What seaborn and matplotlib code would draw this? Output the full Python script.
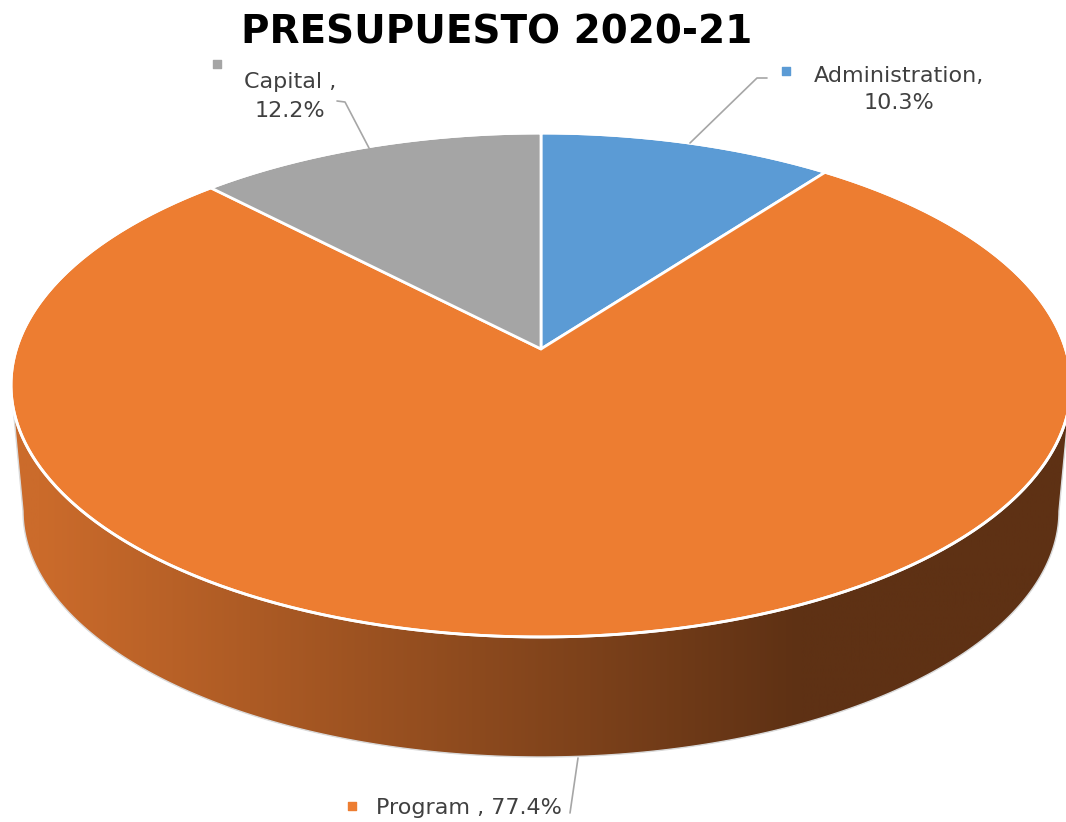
import numpy as np
import matplotlib
matplotlib.use('Agg')
import matplotlib.pyplot as plt
import seaborn as sns
from matplotlib.patches import Polygon


# data
categories = ['Administration', 'Program ', 'Capital ']
shares = [10.3, 77.4, 12.2]
colors = ['#5B9BD5', '#ED7D31', '#A5A5A5']
title = 'PRESUPUESTO 2020-21'

sns.set_style('white')
plt.rcParams['font.family'] = ['DejaVu Sans']

W, H = 1066, 822
f = plt.figure(figsize=(W / 100, H / 100), dpi=100)
ax = f.add_axes([0, 0, 1, 1])

# let the library work out the slice angles, then redraw them in perspective
wedges, _ = ax.pie(shares, startangle=90, counterclock=False, colors=colors)

# geometry of the tilted disc (pixels)
cx, cy, a, b = 541, 385, 530, 252      # top face
bcx, bcy, ba, bb = 541, 511, 518, 246   # bottom face
tilt = np.arctanh(0.143)                # moves the apex up like a perspective view
ch, sh = np.cosh(tilt), np.sinh(tilt)


def persp(theta_deg):
    t = np.radians(theta_deg)
    x, y = np.cos(t), np.sin(t)
    d = y * sh + ch
    return cx + a * x / d, cy - b * (y * ch + sh) / d


apex = (cx, cy - b * np.tanh(tilt))

# side wall with horizontal shading
t = np.linspace(np.pi, 2 * np.pi, 200)
top_edge = np.column_stack([cx + a * np.cos(t), cy - b * np.sin(t)])
bot_edge = np.column_stack([bcx + ba * np.cos(t), bcy - bb * np.sin(t)])[::-1]
side = Polygon(np.vstack([top_edge, bot_edge]), closed=True, facecolor='none',
               edgecolor='#D9D9D9', lw=1.0, zorder=1)
ax.add_patch(side)

xs = np.linspace(0, W, 400)
c0 = np.array([0xCB, 0x6B, 0x2B]) / 255
c1 = np.array([0x5E, 0x31, 0x14]) / 255
frac = np.clip((xs - 40) / (800 - 40), 0, 1)
grad = (c0[None, :] * (1 - frac[:, None]) + c1[None, :] * frac[:, None])[None, :, :]
im = ax.imshow(grad, extent=(0, W, bcy + bb + 2, cy - 5), aspect='auto', zorder=0.9)
im.set_clip_path(side)

# top face
for w, col in zip(wedges, colors):
    th = np.linspace(w.theta1, w.theta2, 200)
    px, py = persp(th)
    pts = np.vstack([[apex], np.column_stack([px, py])])
    ax.add_patch(Polygon(pts, closed=True, facecolor=col, edgecolor='white',
                         lw=2, joinstyle='round', zorder=2))
    w.remove()

tt = np.linspace(0, 2 * np.pi, 400)
ax.plot(cx + a * np.cos(tt), cy - b * np.sin(tt), color='white', lw=2, zorder=3)

# labels
txt = dict(color='#404040', fontsize=16, va='baseline', ha='center', zorder=5)
line = dict(color='#A6A6A6', lw=1.2, zorder=4)

ax.text(899, 82, f'{categories[0]},', **txt)
ax.text(899, 109, f'{shares[0]:.1f}%', **txt)
ax.scatter([786], [71], marker='s', s=28, color=colors[0], zorder=5)
ax.plot([767, 757, 690], [78, 78, 143], **line)

ax.text(290, 88, f'{categories[2]},', **txt)
ax.text(290, 117, f'{shares[2]:.1f}%', **txt)
ax.scatter([217], [64], marker='s', s=28, color=colors[2], zorder=5)
ax.plot([337, 345, 369], [101, 102, 148], **line)

ax.text(469, 814, f'{categories[1]}, {shares[1]:.1f}%', **txt)
ax.scatter([352], [806], marker='s', s=28, color=colors[1], zorder=5)
ax.plot([578, 570], [758, 813], **line)

ax.text(497, 43, title, fontsize=28, fontweight='bold', color='black',
        ha='center', va='baseline', zorder=5)

ax.set_aspect('auto')
ax.set_xlim(0, W)
ax.set_ylim(H, 0)
ax.axis('off')

plt.savefig('out.png', dpi=100, facecolor='white')
